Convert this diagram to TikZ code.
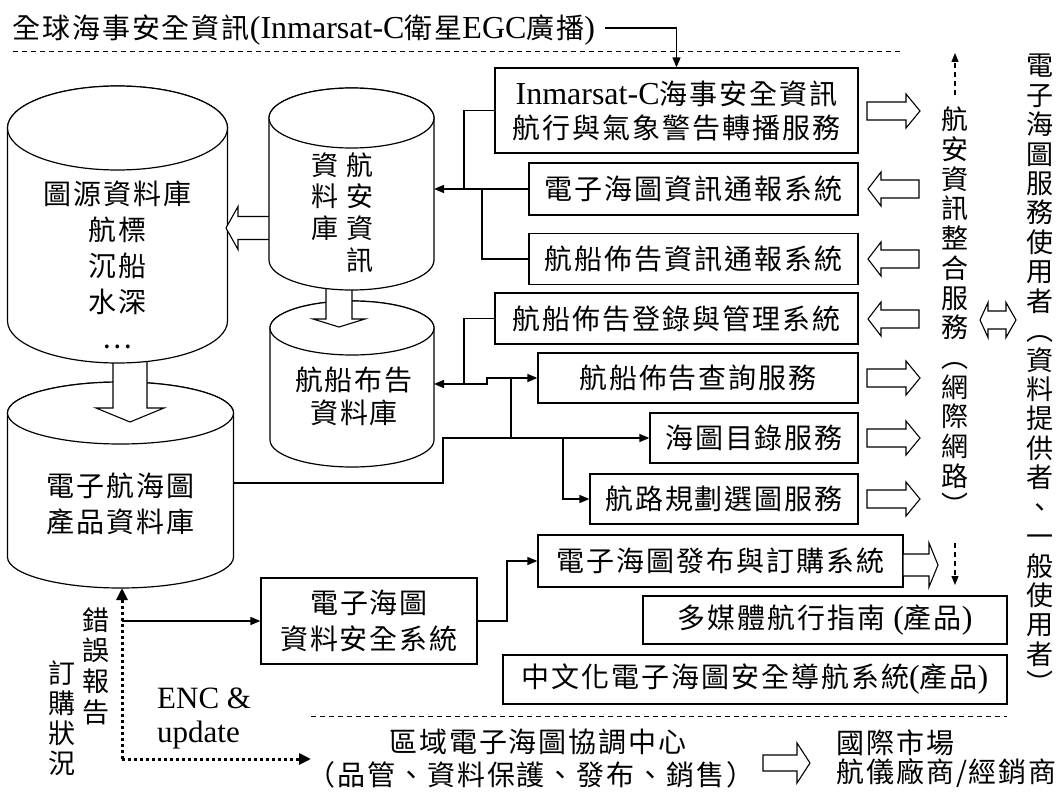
\documentclass[tikz,border=0pt]{standalone}
\usepackage{fontspec}
\setmainfont{Liberation Serif}
\newfontfamily\cj{Noto Sans CJK TC}[LetterSpace=7]
\newfontfamily\cjv{Noto Sans CJK TC}
\usetikzlibrary{arrows.meta}
\newcommand\cjtext{\cj\fontsize{28}{34}\selectfont}
\newcommand\LT[1]{{\rmfamily\fontsize{32}{34}\selectfont #1}}
\newcommand\harr[6]{\filldraw[hollow] (#1,#4-#5) -- (#2,#4-#5) -- (#2,#4-#6) -- (#3,#4) -- (#2,#4+#6) -- (#2,#4+#5) -- (#1,#4+#5) -- cycle;}
\newcommand\varr[6]{\filldraw[hollow] (#4-#5,#1) -- (#4-#5,#2) -- (#4-#6,#2) -- (#4,#3) -- (#4+#6,#2) -- (#4+#5,#2) -- (#4+#5,#1) -- cycle;}
\newcommand\cyl[5]{\filldraw[cylline] (#1-#2,#3) -- (#1-#2,#4) arc[start angle=180,end angle=0,x radius=#2,y radius=#5] -- (#1+#2,#3) arc[start angle=0,end angle=-180,x radius=#2,y radius=#5] -- cycle;
 \draw[cylline] (#1,#3) ellipse[x radius=#2,y radius=#5];}
\tikzset{
 box/.style={draw, line width=1.2pt, fill=white, inner sep=0pt, align=center, font=\cjtext},
 txt/.style={inner sep=0pt, align=center, font=\cjtext},
 vtext/.style={inner sep=0pt, align=center, font=\cjv\fontsize{27}{29.7}\selectfont},
 ln/.style={line width=1.4pt},
 arr/.style={line width=1.4pt, -{Triangle[length=10pt,width=8pt]}},
 dotarr/.style={line width=3pt, dash pattern=on 3pt off 3pt, -{Triangle[length=12pt,width=11pt]}},
 darr/.style={line width=1.3pt, dash pattern=on 5pt off 4pt, -{Triangle[length=9pt,width=7pt]}},
 sep/.style={line width=1pt, dash pattern=on 5pt off 4pt},
 hollow/.style={fill=white, draw=black, line width=1.1pt, line join=miter},
 cylline/.style={fill=white, draw=black, line width=1.2pt}
}
\begin{document}
\begin{tikzpicture}[x=1pt,y=-1pt]
\useasboundingbox (0,0) rectangle (1060,792);
\fill[white] (0,0) rectangle (1060,792);

% top text and separator
\node[txt, anchor=west] (T) at (12,30) {全球海事安全資訊\LT{(Inmarsat-C}衛星\LT{EGC}廣播\LT{)}};
\draw[sep] (13,52) -- (903,52);

% cylinders
\cyl{120.5}{113}{413}{557}{31}
\cyl{352}{82}{328}{440}{27}
\varr{355}{408}{422}{130}{17}{34}
\varr{285}{319}{327}{339}{13}{26}
\cyl{117.5}{110}{128}{321}{42}
\harr{275}{238}{226}{228}{11.5}{21.5}
\cyl{351.5}{82.5}{118}{260}{30}

\node[txt] (db1) at (117.5,265) {圖源資料庫\\[2pt]航標\\[2pt]沉船\\[2pt]水深\\[2pt]…};
\node[txt] (db3) at (120.5,504) {電子航海圖\\[2pt]產品資料庫};
\node[txt] (db4) at (354,396.5) {航船布告\\[-1pt]資料庫};
\node[vtext, font=\cjv\fontsize{27}{31.7}\selectfont] (db2a) at (360,212.5) {航\\安\\資\\訊};
\node[vtext, font=\cjv\fontsize{27}{31.7}\selectfont] (db2b) at (325,196.5) {資\\料\\庫};

% boxes
\node[box, minimum width=363pt, minimum height=85pt] (A) at (676.5,110.5) {\LT{Inmarsat-C}海事安全資訊\\航行與氣象警告轉播服務};
\node[box, minimum width=329pt, minimum height=52pt] (B) at (693.5,189) {電子海圖資訊通報系統};
\node[box, minimum width=329pt, minimum height=51pt] (C) at (693.5,259) {航船佈告資訊通報系統};
\node[box, minimum width=363pt, minimum height=51pt] (D) at (676.5,318.5) {航船佈告登錄與管理系統};
\node[box, minimum width=320pt, minimum height=50pt] (E) at (698,378) {航船佈告查詢服務};
\node[box, minimum width=208pt, minimum height=50pt] (F) at (754,438) {海圖目錄服務};
\node[box, minimum width=268pt, minimum height=50pt] (G) at (724,499) {航路規劃選圖服務};
\node[box, minimum width=365pt, minimum height=52pt] (H) at (720.5,561) {電子海圖發布與訂購系統};
\node[box, minimum width=364pt, minimum height=48pt] (I) at (825,620) {多媒體航行指南\LT{ (}產品\LT{)}};
\node[box, minimum width=504pt, minimum height=49pt] (J) at (755,679.5) {中文化電子海圖安全導航系統\LT{(}產品\LT{)}};
\node[box, minimum width=216pt, minimum height=86pt] (K) at (369,621) {電子海圖\\[2pt]資料安全系統};

% connectors
\coordinate (t0) at (605,28);
\draw[arr] (t0) -| (A.north);
\coordinate (c2R) at (434,189);
\coordinate (jA) at (464,189);
\coordinate (jC) at (482,189);
\draw[arr] (B.west) -- (c2R);
\draw[ln] (A.west) -| (jA);
\draw[ln] (C.west) -| (jC);

\coordinate (c4R) at (434,384);
\coordinate (jD) at (464,384);
\coordinate (s1) at (487,384);
\draw[ln] (D.west) -| (jD);
\draw[arr] (jD) -- (c4R);
\draw[arr] (jD) -- (s1) |- (E.west);
\coordinate (jE) at (511,378);
\coordinate (jF) at (511,438);
\draw[ln] (jE) -- (jF);
\coordinate (c3R) at (233,483);
\coordinate (jL) at (443,438);
\draw[arr] (c3R) -| (jL) -- (F.west);
\coordinate (jG) at (563,438);
\draw[arr] (jG) |- (G.west);
\coordinate (jK) at (507,621);
\draw[arr] (K.east) -- (jK) |- (H.west);

\coordinate (d0) at (122,759);
\coordinate (c3B) at (122,588);
\coordinate (dR) at (311,759);
\coordinate (dK) at (122,621);
\draw[dotarr] (d0) -- (c3B);
\draw[dotarr] (d0) -- (dR);
\draw[arr] (dK) -- (K.west);

% hollow arrows
\harr{867}{906}{920}{111}{9}{17}
\harr{919}{881}{868}{189}{9}{17}
\harr{919}{881}{868}{259}{9}{17}
\harr{919}{881}{868}{319}{9}{17}
\harr{867}{906}{920}{378}{9}{17}
\harr{867}{906}{920}{438}{9}{17}
\harr{867}{906}{920}{499}{9}{17}
\harr{903}{929}{938}{565}{11}{22}
\harr{763}{797}{810}{763}{8}{20}
\filldraw[hollow] (980,320) -- (988,302.5) -- (988,311) -- (1006,311) -- (1006,302.5) -- (1016,320) -- (1006,337.5) -- (1006,329) -- (988,329) -- (988,337.5) -- cycle;

% right side
\coordinate (u0) at (955,95);
\coordinate (u1) at (955,53);
\draw[darr] (u0) -- (u1);
\coordinate (w0) at (955,543);
\coordinate (w1) at (955,585);
\draw[darr] (w0) -- (w1);
\node[vtext] (V1) at (955,311.5) {航\\安\\資\\訊\\整\\合\\服\\務\\︵\\網\\際\\網\\路\\︶};
\node[vtext, font=\cjv\fontsize{27}{29.43}\selectfont] (V2) at (1040,374) {電\\子\\海\\圖\\服\\務\\使\\用\\者\\︵\\資\\料\\提\\供\\者\\、\\一\\般\\使\\用\\者\\︶};

% bottom
\draw[sep] (311,716) -- (1007,716);
\node[vtext, font=\cjv\fontsize{27}{30.7}\selectfont] (V3) at (96,666) {錯\\誤\\報\\告};
\node[vtext, font=\cjv\fontsize{27}{30}\selectfont] (V4) at (62,718) {訂\\購\\狀\\況};
\node[anchor=west, inner sep=0pt, font=\fontsize{31}{34}\selectfont] (enc) at (157,698) {ENC \&};
\node[anchor=west, inner sep=0pt, font=\fontsize{31}{34}\selectfont] (upd) at (157,735) {update};
\node[txt] (R1) at (538,742) {區域電子海圖協調中心};
\node[txt] (R2) at (531,775) {（品管、資料保護、發布、銷售）};
\node[txt, anchor=west] (M1) at (836,743) {國際市場};
\node[txt, anchor=west] (M2) at (836,773) {航儀廠商/經銷商};
\end{tikzpicture}
\end{document}
